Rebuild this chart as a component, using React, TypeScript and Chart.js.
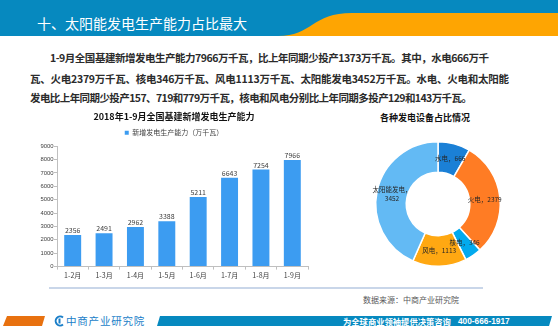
import React, { useEffect, useRef } from 'react';
import { Chart, registerables } from 'chart.js';

Chart.register(...registerables);

// ---- data ----
const barTitle = '2018年1-9月全国基建新增发电生产能力';
const barSeriesName = '新增发电生产能力（万千瓦）';
const barCategories = ['1-2月', '1-3月', '1-4月', '1-5月', '1-6月', '1-7月', '1-8月', '1-9月'];
const barValues = [2356, 2491, 2962, 3388, 5211, 6643, 7254, 7966];
const yMax = 9000;
const yStep = 1000;

const pieTitle = '各种发电设备占比情况';
const pieLabels = ['水电', '火电', '核电', '风电', '太阳能发电'];
const pieValues = [666, 2379, 346, 1113, 3452];
const pieColors = ['#1b80d6', '#ff7c24', '#02aaee', '#ffa812', '#63baf4'];

const headerTitle = '十、太阳能发电生产能力占比最大';
const paraLines = [
  '1-9月全国基建新增发电生产能力7966万千瓦，比上年同期少投产1373万千瓦。其中，水电666万千',
  '瓦、火电2379万千瓦、核电346万千瓦、风电1113万千瓦、太阳能发电3452万千瓦。水电、火电和太阳能',
  '发电比上年同期少投产157、719和779万千瓦，核电和风电分别比上年同期多投产129和143万千瓦。',
];
const sourceText = '数据来源：中商产业研究院';
const footerSlogan = '为全球商业领袖提供决策咨询';
const footerPhone = '400-666-1917';
const logoText = '中商产业研究院';

const CJK = '"Noto Sans CJK SC", "Noto Sans", sans-serif';
const BLUE = '#0689bf';
const ORANGE = '#fea502';
const BAR_COLOR = '#3c9cf1';

const barValuePlugin = {
  id: 'barValues',
  afterDatasetsDraw(chart: any) {
    const ctx = chart.ctx;
    const meta = chart.getDatasetMeta(0);
    ctx.save();
    ctx.font = `7px ${CJK}`;
    ctx.fillStyle = '#404040';
    ctx.textAlign = 'center';
    ctx.textBaseline = 'bottom';
    meta.data.forEach((bar: any, i: number) => {
      ctx.fillText(String(barValues[i]), bar.x, bar.y - 1);
    });
    ctx.restore();
  },
};

const pieLabelPlugin = {
  id: 'pieLabels',
  afterDatasetsDraw(chart: any) {
    const ctx = chart.ctx;
    const meta = chart.getDatasetMeta(0);
    ctx.save();
    ctx.font = `6.5px ${CJK}`;
    ctx.fillStyle = '#262626';
    ctx.textAlign = 'center';
    ctx.textBaseline = 'middle';
    meta.data.forEach((arc: any, i: number) => {
      const p = arc.tooltipPosition();
      const name = pieLabels[i];
      const v = String(pieValues[i]);
      const lines = name.length > 3 ? [name + '，', v] : [name + '，' + v];
      const lh = 9;
      lines.forEach((l, j) => {
        ctx.fillText(l, p.x, p.y + (j - (lines.length - 1) / 2) * lh);
      });
    });
    ctx.restore();
  },
};

function BarChart() {
  const ref = useRef<HTMLCanvasElement>(null);
  useEffect(() => {
    if (!ref.current) return;
    const chart = new Chart(ref.current, {
      type: 'bar',
      data: {
        labels: barCategories,
        datasets: [
          {
            label: barSeriesName,
            data: barValues,
            backgroundColor: BAR_COLOR,
            categoryPercentage: 1,
            barPercentage: 0.54,
          },
        ],
      },
      options: {
        animation: false,
        responsive: false,
        layout: { padding: { left: 40, right: 22, top: 0, bottom: 3 } },
        plugins: {
          title: {
            display: true,
            text: barTitle,
            font: { family: CJK, size: 9, weight: 'bold' },
            color: '#111',
            padding: { top: 6.6, bottom: 0.4 },
          },
          legend: {
            display: true,
            labels: {
              boxWidth: 4,
              boxHeight: 4,
              padding: 6.4,
              font: { family: CJK, size: 7 },
              color: '#404040',
            },
          },
          tooltip: { enabled: false },
        },
        scales: {
          x: {
            grid: { display: true, drawOnChartArea: false, drawTicks: true, tickLength: 3, color: '#bfbfbf' },
            border: { display: true, color: '#bfbfbf' },
            ticks: { font: { family: CJK, size: 7 }, color: '#404040', padding: 2, maxRotation: 0, autoSkip: false },
          },
          y: {
            min: 0,
            max: yMax,
            ticks: {
              stepSize: yStep,
              font: { family: '"Liberation Sans", sans-serif', size: 5.9 },
              color: '#404040',
              padding: 0.5,
              callback: (v: any) => String(v),
            },
            grid: { display: true, drawOnChartArea: false, drawTicks: true, tickLength: 3, color: '#bfbfbf' },
            border: { display: true, color: '#bfbfbf' },
            afterFit: (s: any) => {
              s.width = 17;
            },
          },
        },
      } as any,
      plugins: [barValuePlugin],
    });
    return () => chart.destroy();
  }, []);
  return <canvas ref={ref} width={330} height={180} style={{ display: 'block' }} />;
}

function PieChart() {
  const ref = useRef<HTMLCanvasElement>(null);
  useEffect(() => {
    if (!ref.current) return;
    const chart = new Chart(ref.current, {
      type: 'doughnut',
      data: {
        labels: pieLabels,
        datasets: [
          {
            data: pieValues,
            backgroundColor: pieColors,
            borderColor: '#ffffff',
            borderWidth: 1.5,
          },
        ],
      },
      options: {
        animation: false,
        responsive: false,
        cutout: '51%',
        layout: { padding: { left: 15, right: 15, top: 10, bottom: 10 } },
        plugins: { legend: { display: false }, tooltip: { enabled: false } },
      } as any,
      plugins: [pieLabelPlugin],
    });
    return () => chart.destroy();
  }, []);
  return <canvas ref={ref} width={156} height={146} style={{ display: 'block' }} />;
}

export default function App() {
  const abs = (o: any) => ({ position: 'absolute' as const, ...o });
  const para = { fontSize: 10.5, lineHeight: '16px', color: '#2b2b2b', whiteSpace: 'nowrap', fontWeight: 'bold' };
  return (
    <div
      style={{
        position: 'fixed',
        left: 0,
        top: 0,
        width: 560,
        height: 331,
        background: '#fff',
        overflow: 'hidden',
        fontFamily: CJK,
      }}
    >
      {/* header */}
      <svg width={560} height={40} style={abs({ left: 0, top: 0 })}>
        <rect x={0} y={0} width={558} height={36} fill={BLUE} />
        <path d="M 278 36 C 312 36, 312 13, 352 13 L 558 13 L 558 36 Z" fill={ORANGE} />
      </svg>
      <div style={abs({ left: 37, top: 13, fontSize: 14, lineHeight: '20px', color: '#fff', whiteSpace: 'nowrap' })}>
        {headerTitle}
      </div>

      {/* paragraph */}
      <div style={abs({ left: 50, top: 50, ...para, letterSpacing: -0.48 })}>{paraLines[0]}</div>
      <div style={abs({ left: 30, top: 71, ...para, letterSpacing: -0.25 })}>{paraLines[1]}</div>
      <div style={abs({ left: 30, top: 90, ...para, letterSpacing: -0.58 })}>{paraLines[2]}</div>

      {/* bar chart */}
      <div style={abs({ left: 0, top: 105 })}>
        <BarChart />
      </div>

      {/* pie chart */}
      <div
        style={abs({
          left: 375,
          top: 112,
          width: 100,
          textAlign: 'center',
          fontSize: 9,
          lineHeight: '12px',
          fontWeight: 'bold',
          color: '#111',
          whiteSpace: 'nowrap',
        })}
      >
        {pieTitle}
      </div>
      <div style={abs({ left: 360, top: 131 })}>
        <PieChart />
      </div>

      {/* separator & source */}
      <div style={abs({ left: 49, top: 287, width: 434, height: 2, background: '#c9d6e9' })} />
      <div style={abs({ left: 363, top: 294, fontSize: 8, lineHeight: '12px', color: '#595959', whiteSpace: 'nowrap' })}>
        {sourceText}
      </div>

      {/* footer */}
      <svg width={560} height={20} style={abs({ left: 0, top: 311 })}>
        <polygon points="7,5 45,5 42,15 3,15" fill="#e8710f" />
        <polygon points="160,5 552,5 549,15 157,15" fill={BLUE} />
        <path d="M 63 6.5 A 4.5 4.5 0 1 0 63 13.5" stroke="#1a7ec8" strokeWidth={2} fill="none" />
        <rect x={58.5} y={7.5} width={2} height={5} fill="#1a7ec8" />
      </svg>
      <div style={abs({ left: 66, top: 314, fontSize: 10.5, lineHeight: '14px', color: '#1a7ec8', whiteSpace: 'nowrap', letterSpacing: 0.8 })}>
        {logoText}
      </div>
      <div style={abs({ left: 343, top: 315.5, fontSize: 8.3, lineHeight: '11px', color: '#fff', fontWeight: 'bold', whiteSpace: 'nowrap' })}>
        {footerSlogan}
      </div>
      <div style={abs({ left: 458, top: 315.5, fontSize: 8.3, lineHeight: '11px', color: '#fff', fontWeight: 'bold', whiteSpace: 'nowrap', fontFamily: '"Liberation Sans", sans-serif' })}>
        {footerPhone}
      </div>
    </div>
  );
}
